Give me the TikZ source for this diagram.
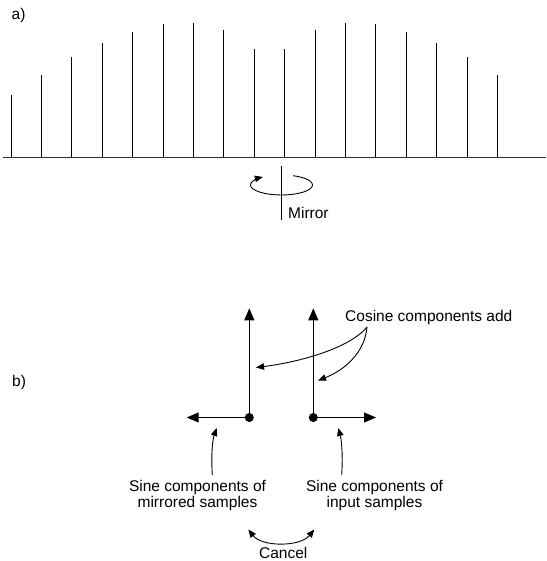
\documentclass[tikz,border=0pt]{standalone}
\usepackage{fontspec}
\setmainfont{Liberation Sans}
\usetikzlibrary{arrows.meta}
\tikzset{
  lbl/.style={inner sep=0pt, font=\fontsize{15.5}{16}\selectfont},
  spike/.style={line width=0.9pt},
  vec/.style={line width=1.1pt, -{Triangle[length=12pt,width=10pt]}},
  note/.style={line width=0.9pt, -{Triangle[length=8pt,width=6.5pt]}},
  dot/.style={circle, fill=black, minimum size=9pt, inner sep=0pt},
}
\begin{document}
\begin{tikzpicture}[x=1pt,y=-1pt]
\useasboundingbox (0,0) rectangle (546,561);

% ---- a) sampled sequence on its axis ----
\node[lbl, anchor=base west] (la) at (11.5,19.3) {a)};
\coordinate (axL) at (3,157.5);
\coordinate (axR) at (546,157.5);
\draw[line width=1.1pt, black!80] (axL) -- (axR);
\foreach \h [count=\i from 0] in {95,75,57.3,43,32,24.3,23,30.3,49.3,49.3,30.3,23,24.3,32,43,57.3,75}{
  \coordinate (s\i) at ({11+30.4*\i},157);
  \coordinate (t\i) at ({11+30.4*\i},\h);
  \draw[spike] (s\i) -- (t\i);
}

% mirror axis with rotation arrow (arc runs clockwise on the page)
\coordinate (mtop) at (281.5,166.5);
\coordinate (mbot) at (281.5,220);
\draw[line width=0.9pt] (mtop) -- (mbot);
\coordinate (mstart) at (293.1,175.7);
\draw[note] (mstart)
  arc[start angle=68, end angle=-233, x radius=31pt, y radius=10pt];
\node[lbl, anchor=base west] (mirror) at (288,218.3) {Mirror};

% ---- b) phasor components ----
\node[lbl, anchor=base west] (lb) at (12,386) {b)};

\node[dot] (dl) at (249.3,417.5) {};
\node[dot] (dr) at (313.3,417.5) {};
\coordinate (dlup) at (249.3,308.3);
\coordinate (drup) at (313.3,308.3);
\coordinate (dlside) at (186.7,417.5);
\coordinate (drside) at (376,417.5);
\draw[vec] (dl.center) -- (dlup);
\draw[vec] (dr.center) -- (drup);
\draw[vec] (dl.center) -- (dlside);
\draw[vec] (dr.center) -- (drside);

% cosine label and its pointers
\node[lbl, anchor=base west] (cos) at (345,321) {Cosine components add};
\coordinate (cosfoot) at (367,327);
\coordinate (cosA) at (256,367.5);
\coordinate (cosB) at (318,380.5);
\draw[note] (cosfoot) .. controls (350,348) and (300,362) .. (cosA);
\draw[note] (cosfoot) .. controls (365,352) and (345,370) .. (cosB);

% sine labels and their pointers
\node[lbl, anchor=base, align=center] (sinm) at (197.5,507.7) {Sine components of\\mirrored samples};
\node[lbl, anchor=base, align=center] (sini) at (374.5,507.7) {Sine components of\\input samples};
\coordinate (smfoot) at (212.3,475);
\coordinate (smtip) at (216.7,428);
\coordinate (sifoot) at (341.7,475);
\coordinate (sitip) at (338.3,428);
\draw[note] (smfoot) .. controls (211,455) and (212.5,440) .. (smtip);
\draw[note] (sifoot) .. controls (343,455) and (341.5,440) .. (sitip);

% cancel arc
\coordinate (cl) at (248.3,529.5);
\coordinate (cr) at (314.3,529.5);
\draw[note, {Triangle[length=8pt,width=6.5pt]}-{Triangle[length=8pt,width=6.5pt]}]
  (cl) .. controls (262,547) and (300,547) .. (cr);
\node[lbl, anchor=base, text depth=0pt] (cancel) at (283.3,558.5) {Cancel};
\end{tikzpicture}
\end{document}
